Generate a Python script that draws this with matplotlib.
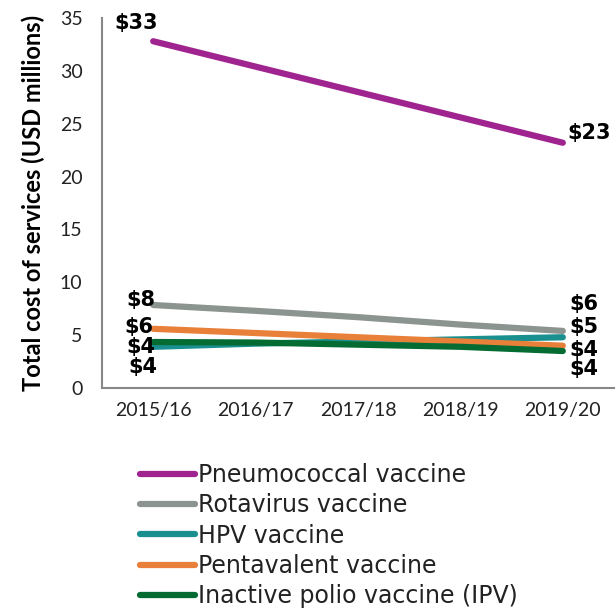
import matplotlib
matplotlib.use("Agg")
import matplotlib.pyplot as plt

years = ["2015/16", "2016/17", "2017/18", "2018/19", "2019/20"]
series_names = ["Pneumococcal vaccine", "Rotavirus vaccine", "HPV vaccine",
                "Pentavalent vaccine", "Inactive polio vaccine (IPV)"]
pneumococcal = [32.8, 30.4, 28.0, 25.6, 23.2]
rotavirus = [7.85, 7.3, 6.7, 6.0, 5.4]
hpv = [3.9, 4.2, 4.4, 4.6, 4.8]
pentavalent = [5.6, 5.2, 4.8, 4.4, 4.0]
ipv = [4.35, 4.3, 4.1, 3.9, 3.5]
colors = ["#A0248F", "#8C9490", "#19908F", "#E8803A", "#046B33"]

start_labels = ["$33", "$8", "$4", "$6", "$4"]
end_labels = ["$23", "$6", "$5", "$4", "$4"]

plt.rcParams['font.family'] = ['Lato', 'DejaVu Sans']
fig = plt.figure(figsize=(6.16, 6.09), dpi=100)
ax = fig.add_axes([102/616, 1-388/609, 512/616, 370/609])

data = [pneumococcal, rotavirus, hpv, pentavalent, ipv]
x = list(range(len(years)))
lines = []
for name, vals, c in zip(series_names, data, colors):
    ln, = ax.plot(x, vals, color=c, lw=4.5, solid_capstyle='round', label=name)
    lines.append(ln)

ax.set_xlim(-0.5, 4.5)
ax.set_ylim(0, 35)
ax.set_yticks(range(0, 36, 5))
ax.set_xticks(x)
ax.set_xticklabels(years)
ax.tick_params(axis='both', length=0, labelsize=14, colors='#222222', pad=10)
ax.tick_params(axis='y', pad=14)
for s in ['top', 'right']:
    ax.spines[s].set_visible(False)
for s in ['left', 'bottom']:
    ax.spines[s].set_color('#888888')
    ax.spines[s].set_linewidth(1.5)
ax.set_ylabel("Total cost of services (USD millions)", fontsize=17, fontweight='bold')
ax.yaxis.set_label_coords(-0.111, 0.5)

lab_kw = dict(fontsize=15, fontweight='bold', color='black', family='DejaVu Sans')
# pneumococcal labels
ax.text(0.05, 34.5, start_labels[0], ha='right', va='center', **lab_kw)
ax.text(4.04, 24.1, end_labels[0], ha='left', va='center', **lab_kw)
# left stacked labels
left_y = [8.3, 5.8, 3.9, 2.0]
left_txt = [start_labels[1], start_labels[3], start_labels[2], start_labels[4]]
left_x = [0.02, 0.0, 0.02, 0.04]
for yy, tt, xx in zip(left_y, left_txt, left_x):
    ax.text(xx, yy, tt, ha='right', va='center', **lab_kw)
right_y = [7.95, 5.8, 3.6, 1.8]
right_txt = [end_labels[1], end_labels[2], end_labels[3], end_labels[4]]
for yy, tt in zip(right_y, right_txt):
    ax.text(4.06, yy, tt, ha='left', va='center', **lab_kw)

leg = fig.legend(handles=lines, loc='upper left', bbox_to_anchor=(140/616, 1-463/609),
           frameon=False, prop={'family': 'DejaVu Sans', 'size': 17},
           handlelength=2.33, handletextpad=0.12,
           labelspacing=0.27, borderaxespad=0, borderpad=0)
for t in leg.get_texts():
    t.set_color('#222222')

fig.savefig("out.png", dpi=100)
